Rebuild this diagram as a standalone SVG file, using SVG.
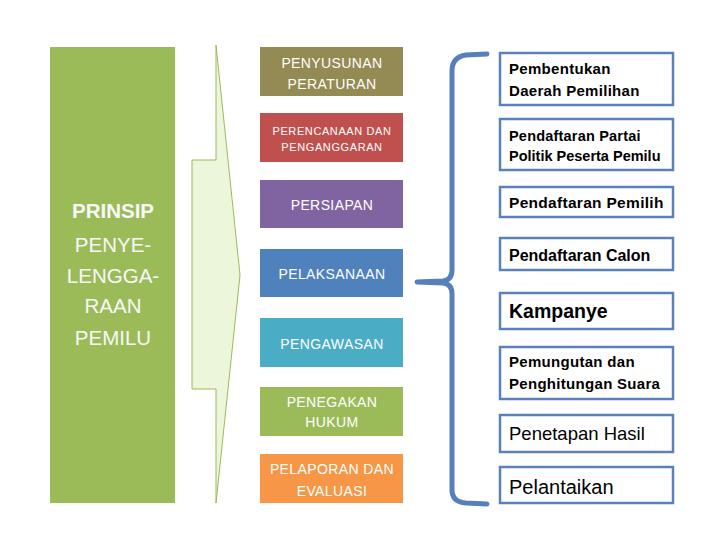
<svg xmlns="http://www.w3.org/2000/svg" width="720" height="540" viewBox="0 0 720 540">
<style>
.lt{font-family:"Liberation Sans",Arial,sans-serif;fill:#f8f8f8;font-size:20.5px;text-anchor:middle}
.mt{font-family:"Liberation Sans",Arial,sans-serif;fill:#ffffff;font-size:14px;text-anchor:middle;letter-spacing:0.4px}
.sm{font-size:11px;letter-spacing:0.6px}
.rb{fill:#ffffff;stroke:#5a82b8;stroke-width:2.5}
.rt{font-family:"Liberation Sans",Arial,sans-serif;fill:#000;font-weight:bold;font-size:15px;letter-spacing:0.3px}
.conn{fill:none;stroke:#5580bb;stroke-width:5;stroke-linecap:round;stroke-linejoin:round}
</style>
<rect width="720" height="540" fill="#ffffff"/>
<g id="prinsip">
<rect x="50" y="47" width="125" height="456" fill="#9bbb59"/>
<text class="lt" x="113" y="218" style="font-weight:bold">PRINSIP</text>
<text class="lt" x="113" y="252">PENYE-</text>
<text class="lt" x="113" y="283">LENGGA-</text>
<text class="lt" x="113" y="313">RAAN</text>
<text class="lt" x="113" y="345">PEMILU</text>
</g>
<g id="arrow">
<polygon points="216,45 240,275 216,503 216,389 192,389 192,160 216,160" fill="#ebf6da" stroke="#9bbb59" stroke-width="1"/>
</g>
<g id="m1"><rect x="260" y="47" width="143" height="49" fill="#948a54"/>
<text class="mt" x="332" y="68">PENYUSUNAN</text><text class="mt" x="332" y="89">PERATURAN</text></g>
<g id="m2"><rect x="260" y="113" width="143" height="49" fill="#c0504d"/>
<text class="mt sm" x="332" y="135">PERENCANAAN DAN</text><text class="mt sm" x="332" y="151">PENGANGGARAN</text></g>
<g id="m3"><rect x="260" y="180" width="143" height="48" fill="#8064a2"/>
<text class="mt" x="332" y="210">PERSIAPAN</text></g>
<g id="m4"><rect x="260" y="249" width="143" height="48" fill="#4f81bd"/>
<text class="mt" x="332" y="279">PELAKSANAAN</text></g>
<g id="m5"><rect x="260" y="318" width="143" height="49" fill="#4bacc6"/>
<text class="mt" x="332" y="349">PENGAWASAN</text></g>
<g id="m6"><rect x="260" y="387" width="143" height="49" fill="#9bbb59"/>
<text class="mt" x="332" y="407">PENEGAKAN</text><text class="mt" x="332" y="427">HUKUM</text></g>
<g id="m7"><rect x="260" y="454" width="143" height="49" fill="#f79646"/>
<text class="mt" x="332" y="474">PELAPORAN DAN</text><text class="mt" x="332" y="496">EVALUASI</text></g>
<g id="connectors">
<path class="conn" d="M487,54 L466,55 Q452,57 452,71 L452,270 Q452,280 443,281 L417,282 L443,283 Q452,284 452,294 L452,490 Q452,502 466,503 L487,504"/>
</g>
<g id="r1"><rect class="rb" x="500" y="53" width="173" height="52"/>
<text class="rt" x="509" y="74">Pembentukan</text><text class="rt" x="509" y="96">Daerah Pemilihan</text></g>
<g id="r2"><rect class="rb" x="500" y="119" width="173" height="51"/>
<text class="rt" x="509" y="141" style="font-size:14.5px;letter-spacing:0.2px">Pendaftaran Partai</text><text class="rt" x="509" y="161" style="font-size:14.5px;letter-spacing:0px">Politik Peserta Pemilu</text></g>
<g id="r3"><rect class="rb" x="500" y="187" width="173" height="30"/>
<text class="rt" x="509" y="208" style="font-size:15.5px">Pendaftaran Pemilih</text></g>
<g id="r4"><rect class="rb" x="500" y="238" width="173" height="32"/>
<text class="rt" x="509" y="261" style="font-size:16px;letter-spacing:0px">Pendaftaran Calon</text></g>
<g id="r5"><rect class="rb" x="500" y="293" width="173" height="36"/>
<text class="rt" x="509" y="318" style="font-size:19.5px;letter-spacing:0px">Kampanye</text></g>
<g id="r6"><rect class="rb" x="500" y="347" width="173" height="52"/>
<text class="rt" x="509" y="367">Pemungutan dan</text><text class="rt" x="509" y="389">Penghitungan Suara</text></g>
<g id="r7"><rect class="rb" x="500" y="415" width="173" height="37"/>
<text class="rt" x="509" y="440" style="font-size:18.5px;font-weight:normal;letter-spacing:0px">Penetapan Hasil</text></g>
<g id="r8"><rect class="rb" x="500" y="467" width="173" height="36"/>
<text class="rt" x="509" y="494" style="font-size:20px;font-weight:normal;letter-spacing:0px">Pelantaikan</text></g>
</svg>
